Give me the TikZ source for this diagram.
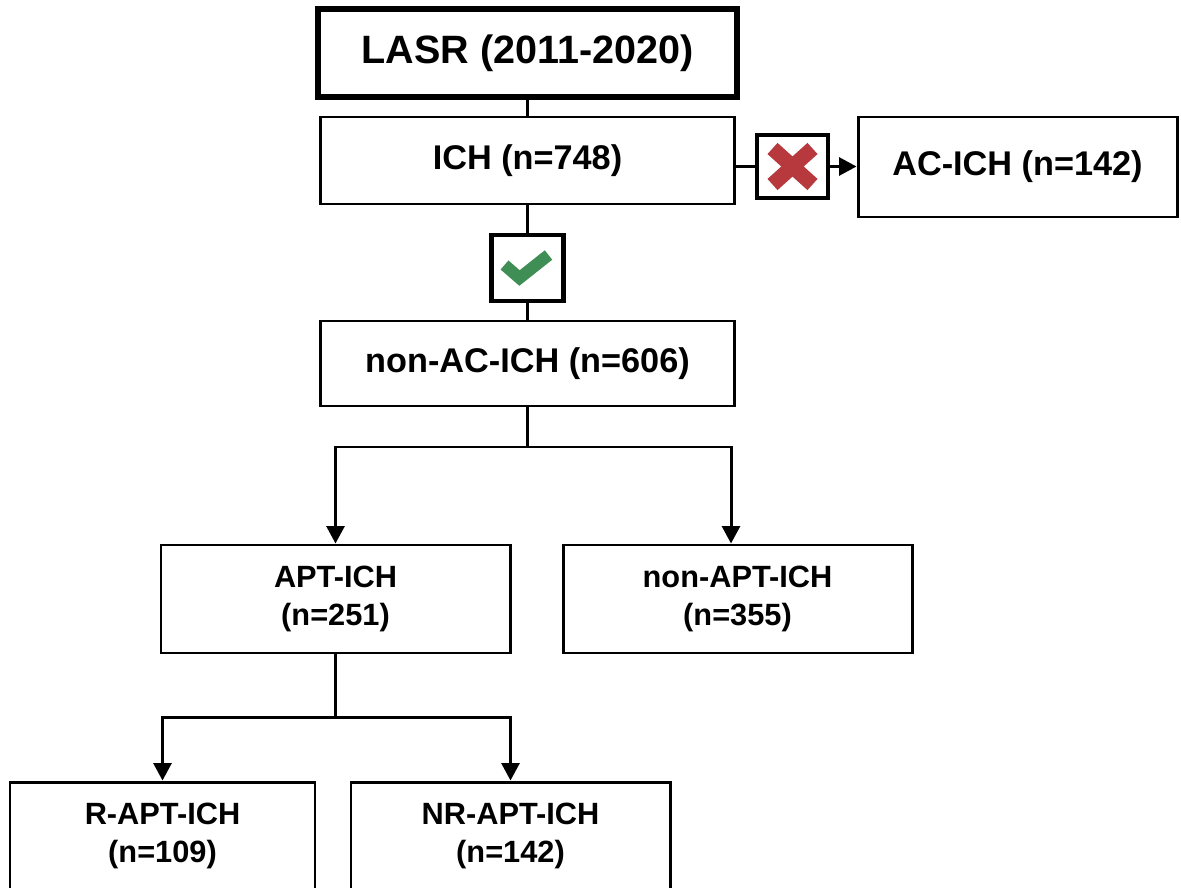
\documentclass[tikz,border=0pt]{standalone}
\usepackage{fontspec}
\setmainfont{Liberation Sans}
\usetikzlibrary{arrows.meta}
\definecolor{xred}{HTML}{B7383D}
\definecolor{okgreen}{HTML}{3F8E55}
\begin{document}
\begin{tikzpicture}[
    font=\bfseries\fontsize{17.5}{22}\selectfont, line width=1.7pt,
    box/.style={draw,fill=white,align=center,inner sep=4pt},
    big/.style={font=\bfseries\fontsize{19.5}{24}\selectfont},
    head/.style={box,line width=3.8pt,font=\bfseries\fontsize{22.5}{26}\selectfont},
    markbox/.style={draw,fill=white,line width=2.7pt,inner sep=0pt},
    arrow/.style={-{Triangle[length=3.5mm,width=3.6mm]},line width=1.7pt},
    crossmark/.style={xred,line width=3mm,line cap=butt},
    tickmark/.style={okgreen,line width=2.4mm,line cap=butt,line join=miter}
]
\path[use as bounding box] (0,0) rectangle (23.62,-17.76);

% top of the flow
\node[head,minimum width=8.38cm,minimum height=1.76cm] (lasr) at (10.55,-1.06) {LASR (2011-2020)};
\node[box,big,minimum width=8.28cm,minimum height=1.74cm] (ich) at (10.55,-3.21) {ICH (n=748)};
\node[markbox,minimum width=1.42cm,minimum height=1.26cm] (cross) at (15.85,-3.33) {};
\node[box,big,minimum width=6.38cm,minimum height=2.0cm] (acich) at (20.35,-3.34) {AC-ICH (n=142)};
\node[markbox,minimum width=1.44cm,minimum height=1.32cm] (check) at (10.55,-5.36) {};
\node[box,big,minimum width=8.28cm,minimum height=1.7cm] (nonac) at (10.55,-7.27) {non-AC-ICH (n=606)};

% excluded / included marks
\draw[crossmark] ([shift={(-0.40,0.36)}]cross.center) -- ([shift={(0.40,-0.36)}]cross.center);
\draw[crossmark] ([shift={(-0.40,-0.36)}]cross.center) -- ([shift={(0.40,0.36)}]cross.center);
\draw[tickmark] ([shift={(-0.46,0.06)}]check.center) -- ([shift={(-0.16,-0.20)}]check.center)
    -- ([shift={(0.42,0.26)}]check.center);

\draw (lasr.south) -- (ich.north);
\draw (cross.west -| ich.east) -- (cross.west);
\draw[arrow] (cross.east) -- (cross.east -| acich.west);
\draw (ich.south) -- (check.north);
\draw (check.south) -- (nonac.north);

% first split
\node[box,minimum width=6.98cm,minimum height=2.16cm] (apt) at (6.71,-11.98) {APT-ICH\\(n=251)};
\node[box,minimum width=6.98cm,minimum height=2.16cm] (nonapt) at (14.75,-11.98) {non-APT-ICH\\(n=355)};
\coordinate (s1) at (10.55,-8.94);
\draw (nonac.south) -- (s1);
\draw[arrow] (s1) -| (apt.north);
\draw[arrow] (s1) -| ([xshift=-0.13cm]nonapt.north);

% second split
\node[box,minimum width=6.1cm,minimum height=2.16cm] (rapt) at (3.25,-16.72) {R-APT-ICH\\(n=109)};
\node[box,minimum width=6.38cm,minimum height=2.16cm] (nrapt) at (10.21,-16.72) {NR-APT-ICH\\(n=142)};
\coordinate (s2) at (6.71,-14.34);
\draw (apt.south) -- (s2);
\draw[arrow] (s2) -| (rapt.north);
\draw[arrow] (s2) -| (nrapt.north);
\end{tikzpicture}
\end{document}
